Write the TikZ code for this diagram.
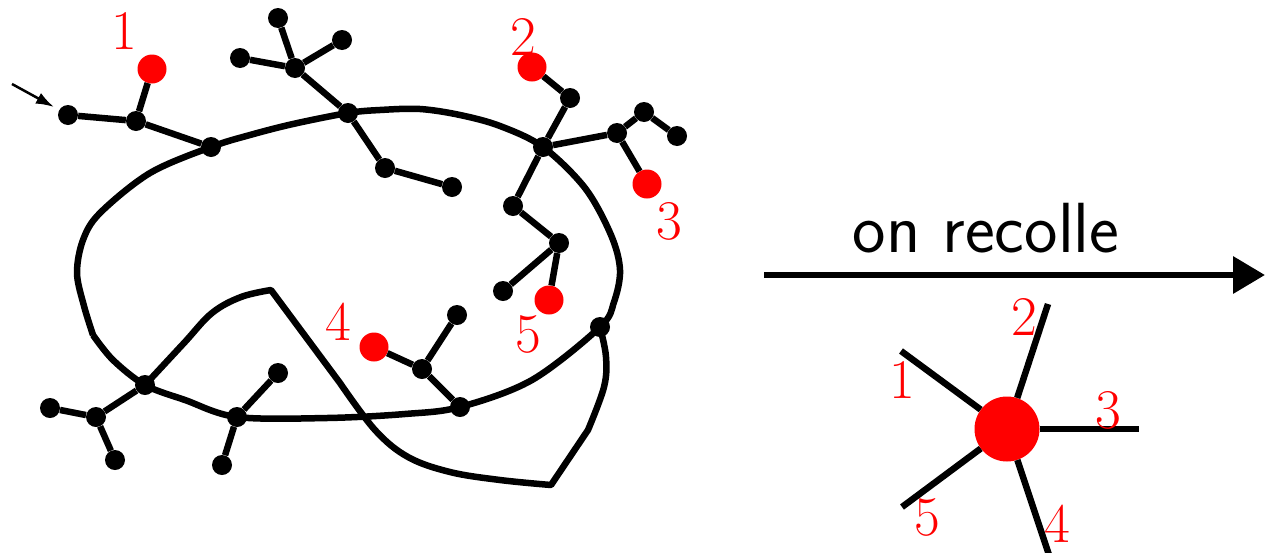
\documentclass[tikz,border=0pt]{standalone}
\usetikzlibrary{arrows.meta}
\begin{document}
\begin{tikzpicture}[x=1pt,y=-1pt,
  bdot/.style={circle,fill=black,inner sep=0pt,minimum size=20pt},
  rdot/.style={circle,fill=red,inner sep=0pt,minimum size=29pt},
  edge/.style={line width=6.5pt},
  curve/.style={line width=6.5pt,line join=round},
  lab/.style={text=red,inner sep=0pt,font=\fontsize{56}{60}\selectfont}]
\useasboundingbox (0,0) rectangle (1265,552);

% left tree nodes
\node[bdot] (a0) at (68,115) {};
\node[bdot] (a1) at (136,121) {};
\node[bdot] (a2) at (211,147) {};
\node[rdot] (r1) at (152,69) {};
\node[bdot] (j1) at (348,113) {};
\node[bdot] (j2) at (295,68) {};
\node[bdot] (j3) at (278,18) {};
\node[bdot] (j4) at (342,40) {};
\node[bdot] (j5) at (240,58) {};
\node[bdot] (k1) at (385,168) {};
\node[bdot] (k2) at (452,187) {};
\node[bdot] (H) at (543,147) {};
\node[bdot] (h1) at (570,98) {};
\node[rdot] (r2) at (532,67) {};
\node[bdot] (h2) at (617,133) {};
\node[bdot] (h3) at (644,112) {};
\node[bdot] (h4) at (677,136) {};
\node[rdot] (r3) at (647,184) {};
\node[bdot] (i1) at (513,206) {};
\node[bdot] (i2) at (559,243) {};
\node[rdot] (r5) at (549,300) {};
\node[bdot] (g) at (503,291) {};
\node[bdot] (d1) at (600,327) {};
\node[bdot] (f) at (460,407) {};
\node[bdot] (e1) at (422,369) {};
\node[bdot] (e2) at (457,315) {};
\node[rdot] (r4) at (374,347) {};
\node[bdot] (b1) at (145,385) {};
\node[bdot] (b2) at (96,417) {};
\node[bdot] (b3) at (50,408) {};
\node[bdot] (b4) at (115,460) {};
\node[bdot] (c1) at (237,417) {};
\node[bdot] (c2) at (278,373) {};
\node[bdot] (c3) at (222,465) {};

% big loop
\draw[curve] plot[smooth,tension=0.55] coordinates {(93,335) (84,306) (77,273) (83,240) (100,213) (150,173) (a2.center) (250,135) (293,124) (j1.center) (380,110) (420,109) (460,115) (500,126) (H.center) (585,188) (611,235) (620,270) (614,302) (d1.center) (532,380) (f.center) (405,414) (327,418) (c1.center) (185,400) (b1.center) (113,360) (93,335)};

% second curve
\draw[curve] plot[smooth,tension=0.6] coordinates {(b1.center) (184,343) (212,313) (241,297) (271,290)}
  -- plot[smooth,tension=0.6] coordinates {(340,383) (375,430) (408,457) (450,472) (500,480) (551,485)}
  -- plot[smooth,tension=0.6] coordinates {(588,430) (604,387) (606,357) (d1.center)};

% tree edges
\draw[edge] (a0) -- (a1) -- (a2);
\draw[edge] (a1) -- (r1);
\draw[edge] (j1) -- (j2);
\draw[edge] (j2) -- (j3);
\draw[edge] (j2) -- (j4);
\draw[edge] (j2) -- (j5);
\draw[edge] (j1) -- (k1) -- (k2);
\draw[edge] (H) -- (h1) -- (r2);
\draw[edge] (H) -- (h2) -- (h3) -- (h4);
\draw[edge] (h2) -- (r3);
\draw[edge] (H) -- (i1) -- (i2) -- (r5);
\draw[edge] (i2) -- (g);
\draw[edge] (f) -- (e1) -- (r4);
\draw[edge] (e1) -- (e2);
\draw[edge] (b1) -- (b2) -- (b3);
\draw[edge] (b2) -- (b4);
\draw[edge] (c1) -- (c2);
\draw[edge] (c1) -- (c3);

% small arrow
\coordinate (arS) at (12,84);
\coordinate (arE) at (54,107);
\draw[line width=2.5pt,-{Latex[length=18pt,width=12pt]}] (arS) -- (arE);

% left labels
\node[lab] (l1) at (124,31) {1};
\node[lab] (l2) at (523,37) {2};
\node[lab] (l3) at (669,221) {3};
\node[lab] (l4) at (338,322) {4};
\node[lab] (l5) at (528,334) {5};

% big arrow and text
\coordinate (bS) at (764,275);
\coordinate (bE) at (1265,275);
\draw[line width=6.5pt,-{Triangle[length=32pt,width=36pt]}] (bS) -- (bE);
\node[anchor=base,inner sep=0pt,font=\sffamily\fontsize{71}{80}\selectfont] (txt) at (986,252) {on recolle};

% star
\node[circle,fill=red,inner sep=0pt,minimum size=65pt] (star) at (1007,429) {};
\coordinate (s1) at (901,351);
\coordinate (s2) at (1048,304);
\coordinate (s3) at (1139,429);
\coordinate (s4) at (1049,555);
\coordinate (s5) at (902,507);
\draw[edge] (star) -- (s1);
\draw[edge] (star) -- (s2);
\draw[edge] (star) -- (s3);
\draw[edge] (star) -- (s4);
\draw[edge] (star) -- (s5);
\node[lab] (m1) at (902,380) {1};
\node[lab] (m2) at (1024,317) {2};
\node[lab] (m3) at (1108,410) {3};
\node[lab] (m4) at (1057,524) {4};
\node[lab] (m5) at (927,517) {5};
\end{tikzpicture}
\end{document}
